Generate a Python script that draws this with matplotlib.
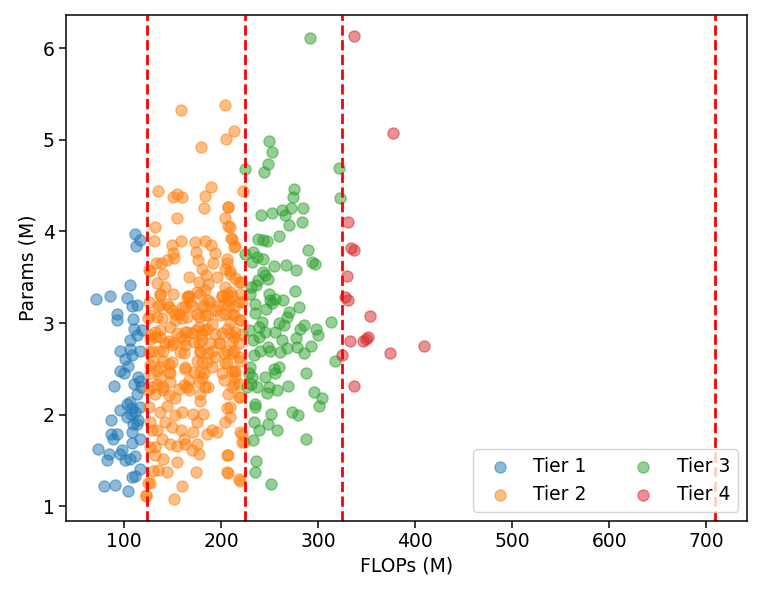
import matplotlib
matplotlib.use("Agg")
import matplotlib.pyplot as plt

# (FLOPs, Params) pairs per tier
tier1 = [(111.3,3.97),(116.5,3.91),(112.4,3.84),(105.5,3.41),(71.1,3.26),(85.6,3.30),(102.8,3.27),(108.0,3.19),
         (113.1,3.20),(92.5,3.10),(93.1,3.03),(109.6,3.04),(110.3,2.94),(113.1,2.87),(106.2,2.81),(95.9,2.70),
         (106.2,2.72),(108.0,2.65),(116.5,2.70),(101.0,2.61),(95.9,2.48),(100.3,2.45),(104.4,2.53),(114.7,2.41),
         (90.0,2.31),(110.3,2.34),(116.5,2.37),(106.2,2.14),(113.1,2.23),(102.8,2.12),(95.2,2.05),(108.0,2.07),
         (111.3,2.03),(116.5,2.08),(114.7,1.94),(109.2,1.90),(86.3,1.94),(86.3,1.79),(93.1,1.79),(88.0,1.74),
         (108.0,1.81),(116.5,1.74),(108.0,1.69),(72.8,1.63),(84.6,1.57),(82.5,1.51),(95.9,1.57),(101.0,1.51),
         (106.2,1.52),(111.3,1.55),(116.5,1.41),(108.0,1.32),(78.7,1.22),(90.7,1.23),(104.4,1.17),(111.3,1.33),
         (102.8,1.98),(113.1,1.90),(117.2,2.30),(118.2,2.92),(107.2,2.01),(97.6,1.61)]

tier2 = [(158.4,5.32),(204.1,5.38),(212.7,5.10),(205.2,5.01),(179.4,4.92),(222.3,4.44),(134.7,4.44),(149.8,4.38),
         (154.3,4.41),(159.5,4.38),(189.7,4.48),(183.5,4.39),(182.5,4.25),(154.9,4.15),(206.9,4.27),(204.1,4.15),
         (207.5,4.06),(131.9,4.05),(131.2,3.90),(149.1,3.85),(158.7,3.89),(172.5,3.88),(182.8,3.90),(189.7,3.85),
         (210.3,3.93),(213.8,3.84),(150.2,3.76),(174.3,3.78),(193.8,3.76),(144.0,3.69),(151.8,3.71),(175.9,3.69),
         (205.9,3.70),(132.7,3.66),(138.2,3.65),(192.0,3.65),(126.8,3.57),(139.5,3.54),(180.1,3.59),(203.4,3.59),
         (208.6,3.57),(166.3,3.50),(184.6,3.52),(195.6,3.50),(214.4,3.49),(133.8,3.44),(141.6,3.39),(176.6,3.45),
         (186.9,3.43),(203.4,3.39),(220.6,3.45),(165.7,3.30),(175.1,3.34),(183.5,3.36),(200.6,3.30),(209.3,3.34),
         (137.1,3.31),(219.6,3.32),
         (166.3,3.29),(205.9,3.32),(135.1,3.19),(144.0,3.21),(149.1,3.14),(156.0,3.10),(162.9,3.18),(168.0,3.23),
         (180.1,3.19),(188.6,3.23),(195.6,3.19),(202.4,3.21),(214.4,3.19),(221.3,3.23),(126.8,3.09),(138.9,3.05),
         (152.6,3.03),(159.5,3.05),(175.1,3.10),(186.9,3.09),(204.1,3.10),(212.7,3.09),(219.6,3.03),(131.9,2.90),
         (126.8,2.83),(137.1,2.85),(145.7,2.80),(158.2,2.85),(165.0,2.90),(173.6,2.92),(180.1,2.88),(185.3,2.94),
         (193.8,2.88),(205.9,2.94),(214.4,2.90),(221.3,2.88),(150.6,2.78),(162.9,2.76),(176.6,2.78),(197.3,2.78),
         (211.0,2.80),(128.5,2.70),(140.5,2.70),(161.2,2.67),(178.4,2.68),(190.4,2.70),(202.4,2.67),(212.7,2.70),
         (217.9,2.63),(130.2,2.59),(137.1,2.52),(145.7,2.55),(162.9,2.50),(180.1,2.58),(190.4,2.52),(178.4,2.47),
         (180.1,2.40),(204.1,2.56),(211.0,2.48),(214.4,2.41),(126.8,2.45),(137.1,2.40),(147.4,2.45),(166.3,2.38),
         (183.5,2.30),(202.4,2.38),(211.0,2.30),(128.5,2.30),(140.5,2.30),(156.0,2.28),(165.0,2.30),(131.9,2.23),
         (145.7,2.21),(152.6,2.18),(178.4,2.15),(207.5,2.23),(217.9,2.19),(144.0,2.10),(137.1,2.03),(152.6,2.00),
         (159.5,2.03),(171.4,2.01),(181.7,2.01),(205.9,2.07),(209.3,1.97),(204.1,1.92),(126.8,1.92),(142.3,1.92),
         (175.1,1.92),(149.1,1.87),(133.8,1.83),(158.2,1.83),(171.4,1.81),(185.3,1.79),(190.4,1.83),(195.6,1.81),
         (221.3,1.79),(138.9,1.74),(147.4,1.68),(161.2,1.73),(162.9,1.68),(175.1,1.68),(221.3,1.70),(131.9,1.65),
         (154.9,1.66),(170.3,1.61),(176.6,1.57),(131.9,1.56),(140.5,1.52),(154.9,1.48),(205.9,1.56),(135.1,1.40),
         (144.0,1.38),(173.6,1.38),(205.9,1.37),(126.8,1.26),(159.5,1.22),(217.9,1.30),(123.0,1.12),(151.8,1.08),
         (125.1,3.58),(125.1,3.23),(124.1,3.05),(126.8,2.87),(125.1,2.68),(126.1,2.54),(124.1,2.27),(125.1,2.08),
         (128.5,1.83),(126.8,1.65),(130.2,1.39),(124.1,1.25),(122.8,1.11),
         (207.5,4.27),(209.3,4.05),(211.0,3.92),(212.7,3.83),(205.9,3.65),(209.3,3.54),(217.9,3.45),(207.5,3.25),
         (217.9,3.23),(211.0,3.10),(219.6,3.03),(212.7,2.85),(217.9,2.78),(211.0,2.67),(219.6,2.59),(214.4,2.48),
         (217.9,2.34),(219.6,2.19),(209.3,2.08),(219.6,1.81),(223.1,1.70),(207.5,1.56),(207.5,1.36),(219.6,1.28),
         (137.1,3.32),(150.8,3.32),(164.6,3.28),(178.4,3.32),(186.9,3.25),(200.7,3.30),(211.0,3.30),(137.1,3.20),
         (145.7,3.18),(159.5,3.18),(169.8,3.19),(181.8,3.19),(193.8,3.14),(207.5,3.19),(133.7,3.07),(152.6,3.10),
         (164.6,3.07),(176.6,3.07),(183.5,3.09),(199.0,3.09),(209.3,3.01),(137.1,2.92),(132.0,2.85),(147.4,2.96),
         (154.3,2.89),(162.9,2.90),(169.8,2.89),(176.6,2.96),(181.8,2.92),(190.4,2.99),(200.7,2.89),(209.3,2.89),
         (142.3,2.78),(149.2,2.76),(161.2,2.81),(171.5,2.79),(180.1,2.81),(188.7,2.78),(199.0,2.78),(135.4,2.70),
         (157.7,2.68),(178.4,2.70),(186.9,2.67),(205.9,2.70),(140.5,2.59),(149.2,2.58),(162.9,2.52),(175.0,2.59),
         (185.3,2.58),(193.8,2.63),(205.9,2.56),(133.7,2.48),(145.7,2.47),(171.5,2.47),(181.8,2.45),(200.7,2.45),
         (212.7,2.47),(133.7,2.34),(147.4,2.36),(161.2,2.32),(176.6,2.36),(186.9,2.30),(212.7,2.34),(140.5,2.27),
         (166.3,2.27),(178.4,2.23)]

tier3 = [(291.8,6.11),(248.8,4.99),(252.3,4.87),(248.1,4.74),(244.3,4.65),(224.8,4.68),(321.0,4.69),(322.7,4.36),
         (274.6,4.46),(273.6,4.37),(272.2,4.26),(284.3,4.25),(262.6,4.23),(265.3,4.18),(252.3,4.20),(240.9,4.18),
         (270.1,4.07),(283.2,4.10),(259.1,3.95),(237.5,3.92),(242.6,3.91),(247.1,3.89),(289.4,3.80),(293.5,3.67),
         (296.9,3.64),(224.8,3.75),(232.3,3.78),(236.8,3.72),(231.7,3.67),(242.6,3.70),(253.9,3.62),(267.0,3.63),
         (277.0,3.58),(243.0,3.56),(245.4,3.52),(247.8,3.48),(237.8,3.47),(235.8,3.42),(230.9,3.39),(229.9,3.32),
         (276.3,3.35),(249.5,3.32),(249.9,3.25),(255.7,3.26),(263.2,3.25),(235.1,3.21),(234.4,3.11),(246.1,3.15),
         (252.3,3.22),(279.7,3.17),(269.4,3.12),(267.8,3.07),(313.4,3.01),(285.6,2.98),(281.5,2.94),(297.6,2.93),
         (299.7,2.87),(259.1,3.00),(264.3,2.98),(242.0,3.01),(238.5,2.96),(228.2,2.92),(245.4,2.90),(255.0,2.90),
         (238.5,2.85),(232.3,2.81),(262.6,2.81),(277.3,2.84),(248.1,2.74),(240.2,2.70),(250.5,2.70),(260.8,2.68),
         (267.8,2.73),(278.0,2.74),(284.9,2.67),(292.8,2.75),(233.3,2.65),(317.5,2.59),(287.7,2.46),(229.9,2.52),
         (253.9,2.50),(259.1,2.52),(255.7,2.45),(231.7,2.41),(245.4,2.41),(230.9,2.34),(236.8,2.30),(248.8,2.30),
         (268.8,2.31),(257.3,2.27),(247.1,2.24),(295.2,2.25),(303.8,2.18),(300.3,2.09),(234.4,2.12),(235.1,2.08),
         (272.9,2.03),(279.1,2.00),(251.5,2.01),(233.3,1.92),(247.8,1.90),(238.5,1.83),(257.3,1.83),(232.3,1.72),
         (287.3,1.73),(236.1,1.49),(235.1,1.38),(251.5,1.24),(228.2,2.45),(226.5,2.30)]

tier4 = [(337.1,6.13),(377.3,5.07),(330.2,4.10),(333.7,3.82),(337.1,3.80),(329.6,3.51),(327.8,3.28),(330.6,3.25),
         (352.9,3.08),(332.3,2.80),(346.1,2.80),(349.5,2.83),(351.6,2.85),(409.3,2.75),(374.2,2.67),(325.0,2.65),
         (337.1,2.31)]

tier_labels = ["Tier 1", "Tier 2", "Tier 3", "Tier 4"]
boundaries = [123.7, 224.7, 324.7, 709.3]

plt.rcParams['font.size'] = 13.5
fig = plt.figure(figsize=(7.6, 5.93), dpi=100)
ax = fig.add_axes([0.0868, 0.1214, 0.8962, 0.8533])

for pts, lab, col in zip([tier1, tier2, tier3, tier4], tier_labels, ["C0", "C1", "C2", "C3"]):
    xs = [p[0] for p in pts]
    ys = [p[1] for p in pts]
    ax.scatter(xs, ys, s=64, alpha=0.5, color=col, label=lab)

for b in boundaries:
    ax.axvline(b, color="red", linestyle="--", linewidth=2.0)

ax.set_xlim(40, 742)
ax.set_ylim(0.84, 6.36)
ax.set_xlabel("FLOPs (M)")
ax.set_ylabel("Params (M)")
ax.legend(loc="lower right", ncol=2)
for sp in ax.spines.values():
    sp.set_linewidth(1.08)
ax.tick_params(width=1.08, length=4.7)

fig.savefig("out.png", dpi=100)
